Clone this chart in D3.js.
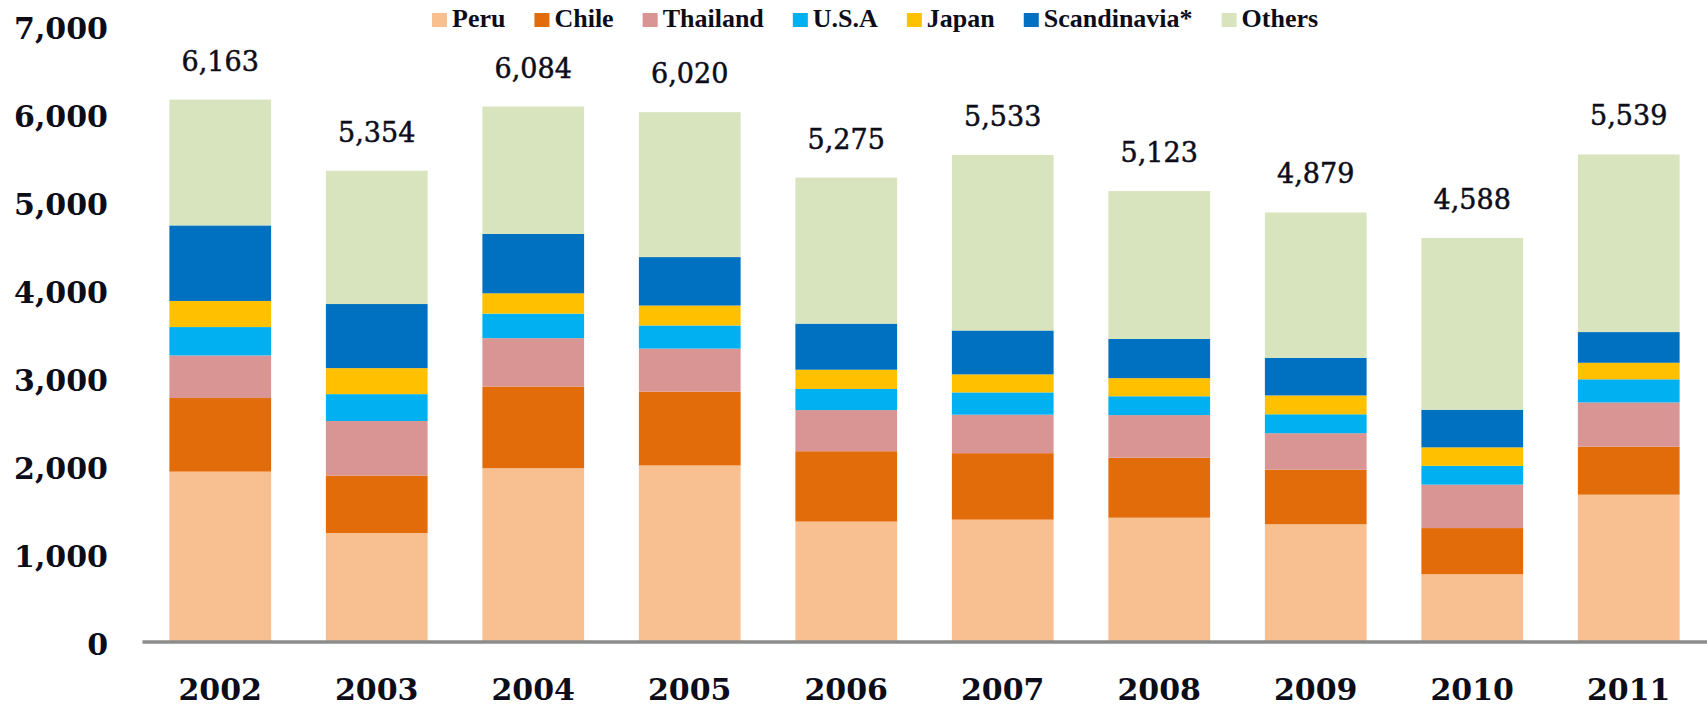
<!DOCTYPE html>
<meta charset="utf-8">
<style>
body { margin: 0; background: #fff; }
.axis--y path, .axis--y line { display: none; }
.axis--x line { display: none; }
.axis text { font-family: "DejaVu Serif", serif; font-weight: bold; font-size: 30px; fill: #0d0d1a; }
.total { font-family: "DejaVu Serif", serif; font-size: 27px; fill: #0d0d1a; stroke: #0d0d1a; stroke-width: 0.5px; text-anchor: middle; }
.legend text { font-family: "Liberation Serif", serif; font-weight: bold; font-size: 26px; fill: #0d0d1a; }
</style>
<svg width="1707" height="706"></svg>
<script src="https://cdn.jsdelivr.net/npm/d3@7"></script>
<script>

// data (thousand tonnes-ish, stacked by source)
var years = ["2002", "2003", "2004", "2005", "2006", "2007", "2008", "2009", "2010", "2011"];
var series = ["Peru", "Chile", "Thailand", "U.S.A", "Japan", "Scandinavia*", "Others"];
var colors = ["#f8bf91", "#e36c0a", "#d99594", "#00b0f0", "#ffc000", "#0070c0", "#d7e4bd"];

var peru     = [1932, 1234, 1971, 2002, 1364, 1386, 1408, 1333, 765, 1670];
var chile    = [837, 654, 929, 840, 800, 756, 682, 621, 525, 546];
var thailand = [484, 620, 550, 489, 468, 437, 485, 415, 494, 503];
var usa      = [323, 305, 279, 263, 240, 254, 214, 215, 214, 263];
var japan    = [297, 296, 231, 227, 219, 205, 206, 214, 210, 188];
var scand    = [859, 729, 676, 551, 524, 499, 446, 428, 428, 349];
var others   = [1431, 1516, 1448, 1648, 1660, 1996, 1682, 1653, 1952, 2020];
var totals   = [6163, 5354, 6084, 6020, 5275, 5533, 5123, 4879, 4588, 5539];

var yTicks = [0, 1000, 2000, 3000, 4000, 5000, 6000, 7000];

var svg = d3.select("svg");

var x = d3.scaleBand()
    .domain(years)
    .range([142, 1707])
    .paddingInner(0.35)
    .paddingOuter(0.175);

var y = d3.scaleLinear().domain([0, 7000]).range([641.5, 26]);

var z = d3.scaleOrdinal().domain(series).range(colors);

// one row per year for the stack
var columns = [peru, chile, thailand, usa, japan, scand, others];
var rows = years.map(function(yr, i) {
  var r = {year: yr};
  series.forEach(function(s, j) { r[s] = columns[j][i]; });
  return r;
});

var stack = d3.stack().keys(series)(rows);

svg.append("g")
  .selectAll("g")
  .data(stack)
  .enter().append("g")
    .attr("fill", function(d) { return z(d.key); })
  .selectAll("rect")
  .data(function(d) { return d; })
  .enter().append("rect")
    .attr("x", function(d) { return x(d.data.year); })
    .attr("y", function(d) { return y(d[1]); })
    .attr("height", function(d) { return y(d[0]) - y(d[1]); })
    .attr("width", x.bandwidth());

// y axis labels
var gy = svg.append("g")
    .attr("class", "axis axis--y")
    .attr("transform", "translate(108,0)")
    .call(d3.axisLeft(y).tickValues(yTicks).tickSize(0).tickPadding(0).tickFormat(d3.format(",")));
gy.selectAll("text").attr("dy", "0.42em");

// x axis with grey baseline
var gx = svg.append("g")
    .attr("class", "axis axis--x")
    .attr("transform", "translate(0," + y(0) + ")")
    .call(d3.axisBottom(x).tickSize(0).tickSizeOuter(0));
gx.select(".domain").attr("stroke", "#8c8c8c").attr("stroke-width", 3.3);
gx.selectAll("text").attr("y", 48).attr("dy", "0.35em");

// totals above each bar
svg.append("g")
  .selectAll("text")
  .data(years)
  .enter().append("text")
    .attr("class", "total")
    .attr("x", function(d) { return x(d) + x.bandwidth() / 2; })
    .attr("y", function(d, i) { return y(totals[i]) - 29; })
    .text(function(d, i) { return d3.format(",")(totals[i]); });

// legend along the top
var legend = svg.append("g").attr("class", "legend");
var lx = 432;
series.forEach(function(s) {
  var item = legend.append("g").attr("transform", "translate(" + lx + ",0)");
  item.append("rect")
      .attr("y", 13)
      .attr("width", 15)
      .attr("height", 14)
      .attr("fill", z(s));
  var t = item.append("text")
      .attr("x", 20)
      .attr("y", 27)
      .text(s);
  lx += 20 + t.node().getComputedTextLength() + 29;
});

</script>
